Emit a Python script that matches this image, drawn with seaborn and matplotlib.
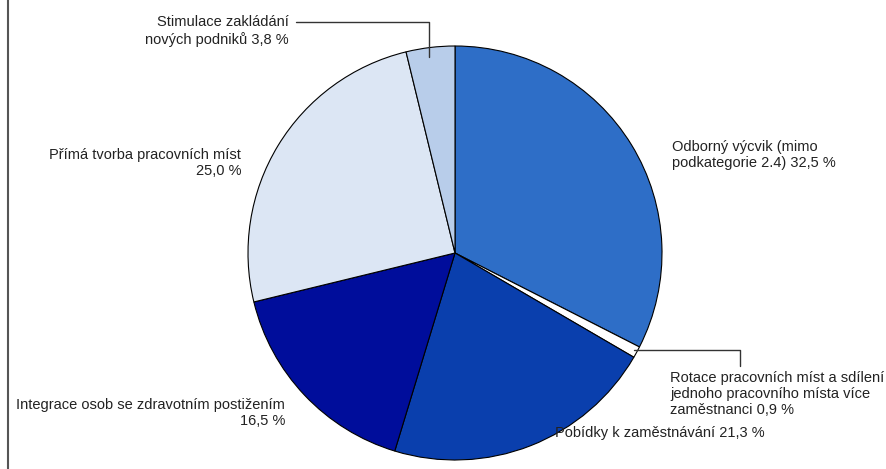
import seaborn as sns
import matplotlib.pyplot as plt
from matplotlib.lines import Line2D

# podíly kategorií (v %)
kategorie = ['Odborný výcvik (mimo\npodkategorie 2.4) 32,5 %',
             'Rotace pracovních míst a sdílení\njednoho pracovního místa více\nzaměstnanci 0,9 %',
             'Pobídky k zaměstnávání 21,3 %',
             'Integrace osob se zdravotním postižením\n16,5 %',
             'Přímá tvorba pracovních míst\n25,0 %',
             'Stimulace zakládání\nnových podniků 3,8 %']
podily = [32.5, 0.9, 21.3, 16.5, 25.0, 3.8]
barvy = ['#2e6ec7', '#ffffff', '#0a3fad', '#000d9b', '#dce6f4', '#b8cdea']

sns.set_style('white')
plt.rcParams['font.family'] = ['Liberation Sans', 'DejaVu Sans']

W, H = 887, 469
fig = plt.figure(figsize=(W / 100, H / 100), dpi=100)

# pixely -> souřadnice obrázku
def px(x, y):
    return x / W, 1 - y / H

cx, cy, r = 455, 253, 207
ax = fig.add_axes([(cx - r) / W, (H - cy - r) / H, 2 * r / W, 2 * r / H])
ax.pie(podily, colors=barvy, startangle=90, counterclock=False,
       wedgeprops=dict(edgecolor='black', linewidth=0.8))
ax.set_aspect('equal')
ax.set_xlim(-1, 1)
ax.set_ylim(-1, 1)
ax.axis('off')

fs = 10.5
ls = 1.17
# popisky: (x, y, zarovnání)
pozice = [(672, 155, 'left'), (670, 394, 'left'), (555, 433, 'left'),
          (285, 413, 'right'), (241, 163, 'right'), (289, 31, 'right')]
for text, (x, y, ha) in zip(kategorie, pozice):
    fig.text(*px(x, y), text, ha=ha, va='center', fontsize=fs,
             linespacing=ls, multialignment=ha, color='#222222')

# vodicí čáry
def cara(body):
    xs = [px(x, y)[0] for x, y in body]
    ys = [px(x, y)[1] for x, y in body]
    fig.add_artist(Line2D(xs, ys, color='#333333', linewidth=1))

cara([(296, 22), (429, 22), (429, 57)])
cara([(634, 350), (740, 350), (740, 366)])

# svislá čára vlevo
fig.add_artist(Line2D([8 / W, 8 / W], [0, 1], color='#555555', linewidth=1.5))

fig.savefig('out.png', dpi=100)
